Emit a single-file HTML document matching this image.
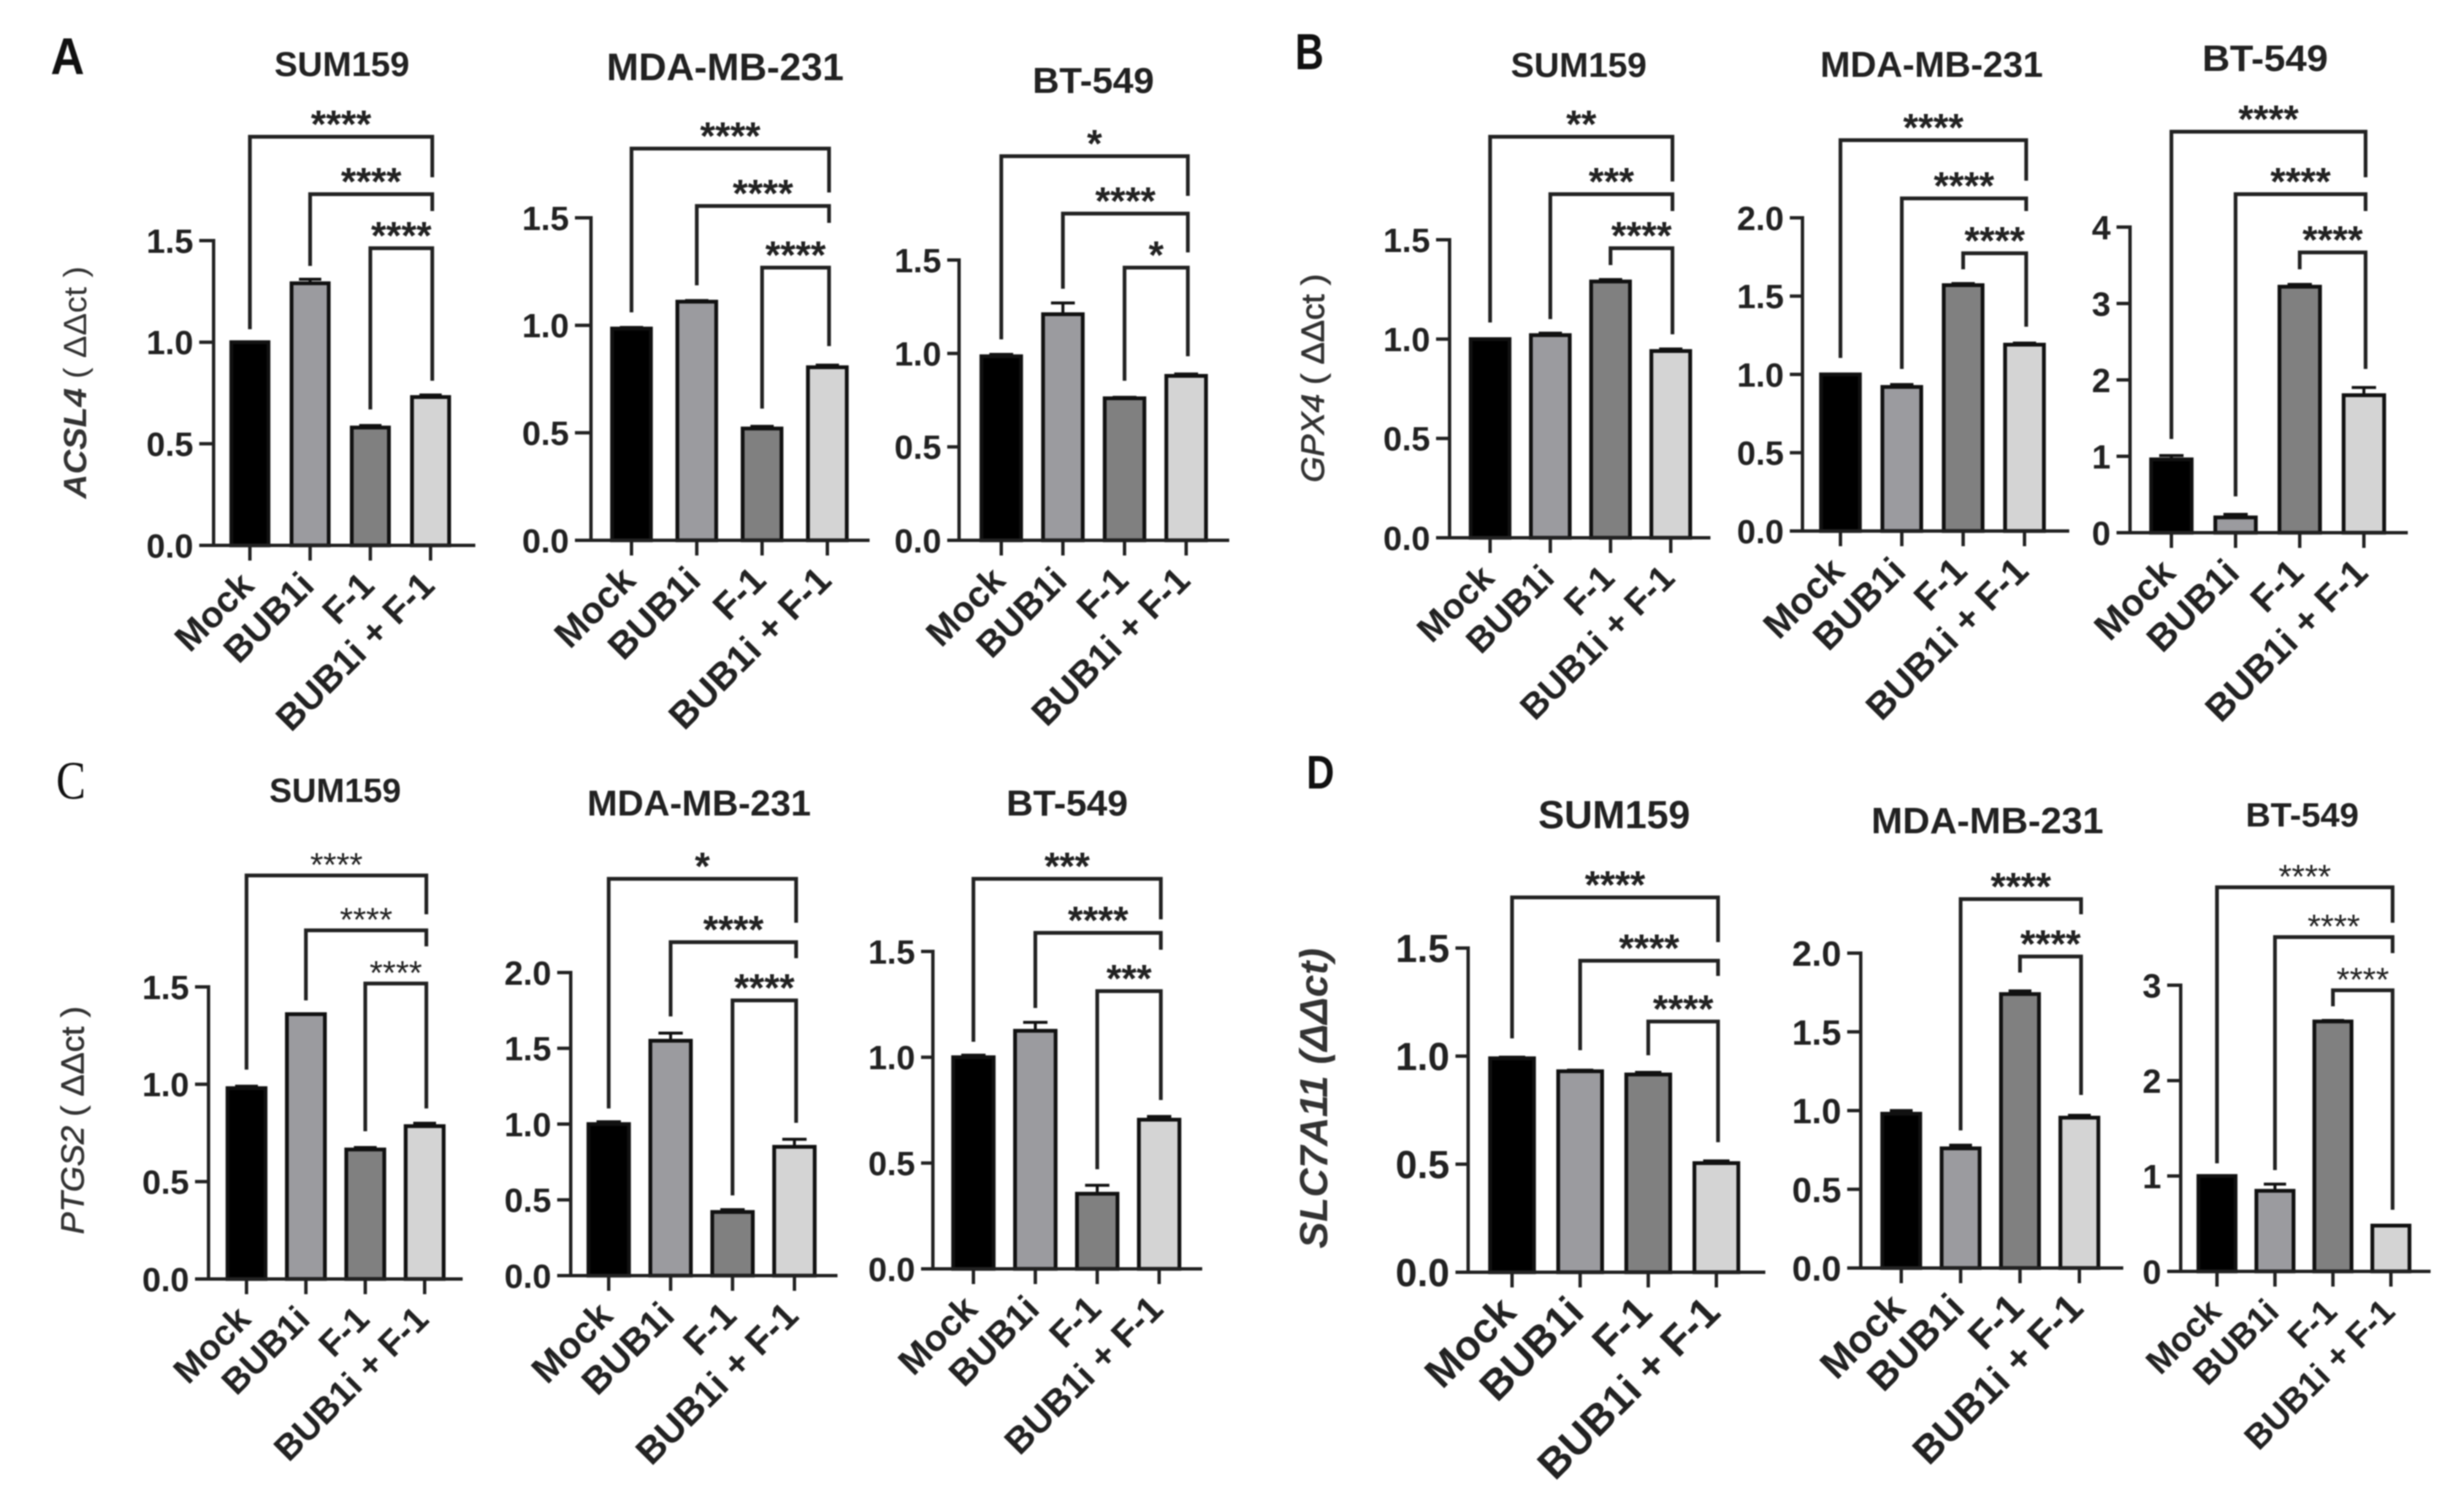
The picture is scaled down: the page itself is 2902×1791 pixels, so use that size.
<!DOCTYPE html>
<html>
<head>
<meta charset="utf-8">
<title>Relative expression of ferroptosis genes</title>
<style>
html,body{margin:0;padding:0;background:#fff;width:2902px;height:1791px;overflow:hidden}
svg{display:block;filter:blur(.9px)}
text{font-family:"Liberation Sans",sans-serif;fill:#222}
.title{font-weight:bold;text-anchor:middle}
.letter{text-anchor:middle;fill:#111}
.ylab{text-anchor:middle;font-size:38px;fill:#333}
</style>
</head>
<body>
<svg id="figure" width="2902" height="1791" viewBox="0 0 2902 1791" xmlns="http://www.w3.org/2000/svg">
<rect width="2902" height="1791" fill="#fff"/>

<text class="letter" x="80" y="88" font-size="61" font-weight="bold" textLength="40" lengthAdjust="spacingAndGlyphs">A</text>
<text class="letter" x="1551" y="82" font-size="60" font-weight="bold" textLength="34" lengthAdjust="spacingAndGlyphs">B</text>
<text class="letter" x="84" y="946" font-size="64" textLength="35" lengthAdjust="spacingAndGlyphs" style="font-family:'Liberation Serif',serif">C</text>
<text class="letter" x="1564" y="934" font-size="56" font-weight="bold" textLength="33" lengthAdjust="spacingAndGlyphs">D</text>

<text class="ylab" transform="translate(102,453) rotate(-90)" textLength="275" lengthAdjust="spacingAndGlyphs"><tspan font-style="italic" font-weight="bold">ACSL4</tspan> ( ΔΔct )</text>
<text class="ylab" transform="translate(1568,448) rotate(-90)" textLength="247" lengthAdjust="spacingAndGlyphs" stroke="#333" stroke-width="0.8"><tspan font-style="italic">GPX4</tspan> ( ΔΔct )</text>
<text class="ylab" transform="translate(99,1327) rotate(-90)" textLength="270" lengthAdjust="spacingAndGlyphs" stroke="#333" stroke-width="0.6"><tspan font-style="italic">PTGS2</tspan> ( ΔΔct )</text>
<text class="ylab" transform="translate(1572,1301) rotate(-90)" style="font-size:46px;font-weight:bold;font-style:italic" textLength="356" lengthAdjust="spacingAndGlyphs">SLC7A11 (ΔΔct)</text>

<g id="panel-a1"><text class="title" x="405" y="90" font-size="41" textLength="160" lengthAdjust="spacingAndGlyphs">SUM159</text></g>
<g id="panel-a2"><text class="title" x="859" y="95" font-size="45" textLength="281" lengthAdjust="spacingAndGlyphs">MDA-MB-231</text></g>
<g id="panel-a3"><text class="title" x="1295" y="110" font-size="43" textLength="144" lengthAdjust="spacingAndGlyphs">BT-549</text></g>
<g id="panel-b1"><text class="title" x="1870" y="91" font-size="41" textLength="161" lengthAdjust="spacingAndGlyphs">SUM159</text></g>
<g id="panel-b2"><text class="title" x="2288" y="91" font-size="43" textLength="264" lengthAdjust="spacingAndGlyphs">MDA-MB-231</text></g>
<g id="panel-b3"><text class="title" x="2683" y="84" font-size="44" textLength="149" lengthAdjust="spacingAndGlyphs">BT-549</text></g>
<g id="panel-c1"><text class="title" x="397" y="950" font-size="40" textLength="156" lengthAdjust="spacingAndGlyphs">SUM159</text></g>
<g id="panel-c2"><text class="title" x="828" y="966" font-size="43" textLength="265" lengthAdjust="spacingAndGlyphs">MDA-MB-231</text></g>
<g id="panel-c3"><text class="title" x="1264" y="966" font-size="43" textLength="144" lengthAdjust="spacingAndGlyphs">BT-549</text></g>
<g id="panel-d1"><text class="title" x="1912" y="981" font-size="46" textLength="180" lengthAdjust="spacingAndGlyphs">SUM159</text></g>
<g id="panel-d2"><text class="title" x="2354" y="987" font-size="44" textLength="275" lengthAdjust="spacingAndGlyphs">MDA-MB-231</text></g>
<g id="panel-d3"><text class="title" x="2727" y="979" font-size="40" textLength="134" lengthAdjust="spacingAndGlyphs">BT-549</text></g>
</svg>

<script>
// ---- data ----
const categories = ['Mock', 'BUB1i', 'F-1', 'BUB1i + F-1'];
const barFills = ['#000000', '#9b9b9f', '#808080', '#d4d4d4'];

const ticks15 = ['0.0', '0.5', '1.0', '1.5'];
const ticks20 = ['0.0', '0.5', '1.0', '1.5', '2.0'];
const ticks3 = ['0', '1', '2', '3'];
const ticks4 = ['0', '1', '2', '3', '4'];

const acsl4Sum159 = [1.0, 1.29, 0.58, 0.73];
const acsl4Mda = [0.985, 1.11, 0.52, 0.805];
const acsl4Bt = [0.985, 1.21, 0.76, 0.88];
const gpx4Sum159 = [1.0, 1.02, 1.29, 0.94];
const gpx4Mda = [1.0, 0.92, 1.57, 1.19];
const gpx4Bt = [0.96, 0.2, 3.22, 1.8];
const ptgs2Sum159 = [0.98, 1.36, 0.665, 0.785];
const ptgs2Mda = [1.0, 1.55, 0.42, 0.85];
const ptgs2Bt = [1.0, 1.125, 0.355, 0.705];
const slc7a11Sum159 = [0.99, 0.93, 0.915, 0.505];
const slc7a11Mda = [0.98, 0.76, 1.74, 0.955];
const slc7a11Bt = [1.0, 0.845, 2.62, 0.48];

const acsl4Sum159Err = [0, 0.02, 0.01, 0.01];
const acsl4MdaErr = [0.005, 0.005, 0.01, 0.01];
const acsl4BtErr = [0.01, 0.06, 0.005, 0.01];
const gpx4Sum159Err = [0, 0.01, 0.01, 0.01];
const gpx4MdaErr = [0, 0.015, 0.01, 0.01];
const gpx4BtErr = [0.05, 0.04, 0.03, 0.1];
const ptgs2Sum159Err = [0.01, 0, 0.01, 0.015];
const ptgs2MdaErr = [0.015, 0.05, 0.015, 0.05];
const ptgs2BtErr = [0.01, 0.04, 0.04, 0.015];
const slc7a11Sum159Err = [0.005, 0.005, 0.01, 0.01];
const slc7a11MdaErr = [0.02, 0.02, 0.02, 0.015];
const slc7a11BtErr = [0, 0.07, 0.01, 0];

// ---- layout (frames in page pixels; marks come from the arrays above) ----
const frames = [
 {id:'panel-a1',v:acsl4Sum159,e:acsl4Sum159Err,t:ticks15,ax:253,tl:236,xe:563,y0:646,yt:285,c0:296,c3:510,bw:44,fs:40,cf:40,
  br:[[0,3,162,390,210,'****'],[1,3,230,315,250,'****'],[2,3,294,485,451,'****']]},
 {id:'panel-a2',v:acsl4Mda,e:acsl4MdaErr,t:ticks15,ax:700,tl:681,xe:1030,y0:640,yt:258,c0:748,c3:980,bw:46,fs:40,cf:41,
  br:[[0,3,176,370,228,'****'],[1,3,244,338,264,'****'],[2,3,317,484,410,'****']]},
 {id:'panel-a3',v:acsl4Bt,e:acsl4BtErr,t:ticks15,ax:1136,tl:1122,xe:1456,y0:640,yt:308,c0:1186,c3:1405,bw:47,fs:40,cf:40,
  br:[[0,3,185,402,232,'*'],[1,3,253,342,299,'****'],[2,3,317,451,422,'*']]},
 {id:'panel-b1',v:gpx4Sum159,e:gpx4Sum159Err,t:ticks15,ax:1717,tl:1701,xe:2026,y0:637,yt:284,c0:1765,c3:1979,bw:46,fs:40,cf:39,
  br:[[0,3,162,382,215,'**'],[1,3,230,378,250,'***'],[2,3,294,314,396,'****']]},
 {id:'panel-b2',v:gpx4Mda,e:gpx4MdaErr,t:ticks20,ax:2135,tl:2120,xe:2451,y0:629,yt:258,c0:2180,c3:2398,bw:46,fs:40,cf:41,
  br:[[0,3,166,424,214,'****'],[1,3,235,437,250,'****'],[2,3,300,319,387,'****']]},
 {id:'panel-b3',v:gpx4Bt,e:gpx4BtErr,t:ticks4,ax:2523,tl:2507,xe:2852,y0:631,yt:269,c0:2572,c3:2800,bw:48,fs:40,cf:41,
  br:[[0,3,156,520,210,'****'],[1,3,230,588,250,'****'],[2,3,299,319,437,'****']]},
 {id:'panel-c1',v:ptgs2Sum159,e:ptgs2Sum159Err,t:ticks15,ax:247,tl:231,xe:548,y0:1515,yt:1169,c0:292,c3:503,bw:45,fs:40,cf:39,light:true,
  br:[[0,3,1037,1267,1083,'****'],[1,3,1102,1185,1121,'****'],[2,3,1165,1340,1313,'****']]},
 {id:'panel-c2',v:ptgs2Mda,e:ptgs2MdaErr,t:ticks20,ax:676,tl:660,xe:992,y0:1511,yt:1152,c0:721,c3:941,bw:48,fs:40,cf:41,
  br:[[0,3,1041,1313,1093,'*'],[1,3,1116,1204,1135,'****'],[2,3,1185,1416,1330,'****']]},
 {id:'panel-c3',v:ptgs2Bt,e:ptgs2BtErr,t:ticks15,ax:1105,tl:1091,xe:1424,y0:1503,yt:1127,c0:1153,c3:1373,bw:48,fs:40,cf:40,
  br:[[0,3,1041,1234,1089,'***'],[1,3,1105,1194,1125,'****'],[2,3,1174,1385,1303,'***']]},
 {id:'panel-d1',v:slc7a11Sum159,e:slc7a11Sum159Err,t:ticks15,ax:1739,tl:1724,xe:2091,y0:1507,yt:1123,c0:1791,c3:2033,bw:52,fs:46,cf:46,
  br:[[0,3,1063,1230,1116,'****'],[1,3,1138,1244,1156,'****'],[2,3,1210,1250,1353,'****']]},
 {id:'panel-d2',v:slc7a11Mda,e:slc7a11MdaErr,t:ticks20,ax:2204,tl:2188,xe:2515,y0:1502,yt:1129,c0:2252,c3:2463,bw:45,fs:42,cf:43,
  br:[[1,3,1065,1339,1083,'****'],[2,3,1133,1152,1297,'****']]},
 {id:'panel-d3',v:slc7a11Bt,e:slc7a11BtErr,t:ticks3,ax:2583,tl:2567,xe:2879,y0:1506,yt:1167,c0:2626,c3:2832,bw:44,fs:40,cf:38,light:true,
  br:[[0,3,1051,1378,1093,'****'],[1,3,1110,1386,1129,'****'],[2,3,1173,1192,1433,'****']]}
];

const NS = 'http://www.w3.org/2000/svg';
function mk(parent, tag, attrs, txt) {
  const n = document.createElementNS(NS, tag);
  for (const k in attrs) n.setAttribute(k, attrs[k]);
  if (txt !== undefined) n.textContent = txt;
  parent.appendChild(n);
  return n;
}

frames.forEach(function (f) {
  const g = document.getElementById(f.id);
  const maxTick = parseFloat(f.t[f.t.length - 1]);
  const yScale = function (v) { return f.y0 - v * (f.y0 - f.yt) / maxTick; };
  const xScale = function (i) { return f.c0 + i * (f.c3 - f.c0) / (categories.length - 1); };

  // bars + error bars
  f.v.forEach(function (val, i) {
    const x = xScale(i), top = yScale(val);
    let el = mk(g, 'rect', {x: x - f.bw / 2, y: top, width: f.bw, height: Math.max(0, f.y0 - top), fill: barFills[i], stroke: '#111', 'stroke-width': 4.5});
    
    
    const errTop = yScale(val + f.e[i]);
    el = mk(g, 'line', {x1: x, x2: x, y1: top, y2: errTop, stroke: '#111', 'stroke-width': 3.5});
    
    
    el = mk(g, 'line', {x1: x - f.bw * 0.3, x2: x + f.bw * 0.3, y1: errTop, y2: errTop, stroke: '#111', 'stroke-width': 3.5});
    
    
  });

  // axes
  let ax = mk(g, 'line', {x1: f.ax, x2: f.ax, y1: f.yt - 2, y2: f.y0 + 2, stroke: '#222', 'stroke-width': 4});
  
  
  ax = mk(g, 'line', {x1: f.tl, x2: f.xe, y1: f.y0, y2: f.y0, stroke: '#222', 'stroke-width': 4});
  
  

  // y ticks
  f.t.forEach(function (lab) {
    const y = yScale(parseFloat(lab));
    const tk = mk(g, 'line', {x1: f.tl, x2: f.ax, y1: y, y2: y, stroke: '#222', 'stroke-width': 4});
    
    
    const tl = mk(g, 'text', {x: f.tl - 7, y: y + f.fs * 0.36, 'text-anchor': 'end', 'font-size': f.fs, 'font-weight': 'bold', fill: '#333'}, lab);
    
    
  });

  // x ticks + rotated labels
  categories.forEach(function (cat, i) {
    const x = xScale(i);
    const tk = mk(g, 'line', {x1: x, x2: x, y1: f.y0, y2: f.y0 + 18, stroke: '#222', 'stroke-width': 4});
    
    
    const lx = x + 7, ly = f.y0 + 50;
    const cl = mk(g, 'text', {transform: 'translate(' + lx + ',' + ly + ') rotate(-45)', 'text-anchor': 'end', 'font-size': f.cf * 1.08, 'font-weight': 'bold', fill: '#2a2a2a'}, cat);
    
    
  });

  // significance brackets
  f.br.forEach(function (b) {
    const xa = xScale(b[0]), xb = xScale(b[1]) + 2;
    const p = mk(g, 'path', {d: 'M' + xa + ' ' + b[3] + 'V' + b[2] + 'H' + xb + 'V' + b[4], fill: 'none', stroke: '#222', 'stroke-width': 4.4});
    
    
    const st = mk(g, 'text', {x: (xa + xb) / 2, y: b[2] + 1, 'text-anchor': 'middle', 'font-size': f.light ? 40 : 46, 'font-weight': f.light ? 'normal' : 'bold', fill: f.light ? '#555' : '#222'}, b[5]);
    
    
  });
});
</script>
</body>
</html>
